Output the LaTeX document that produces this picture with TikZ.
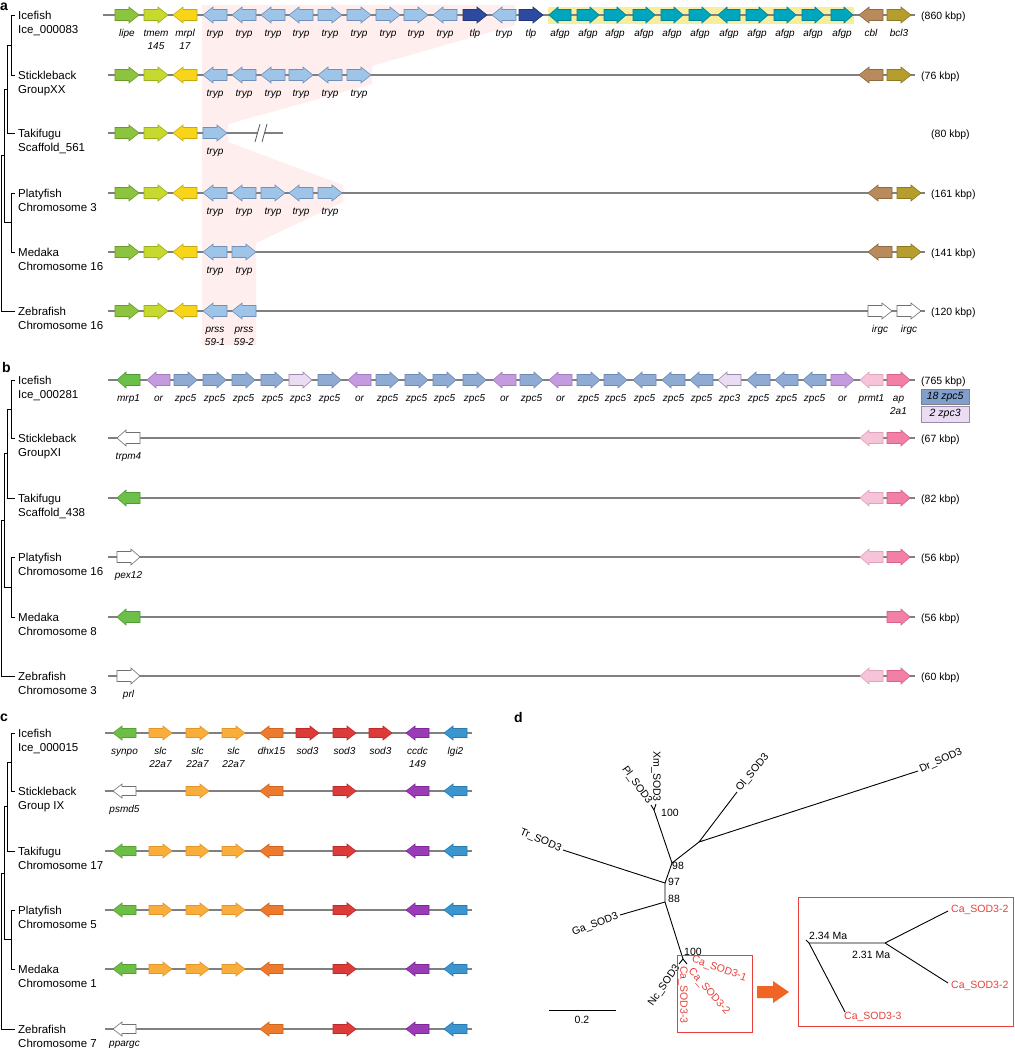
\documentclass[tikz,border=0pt]{standalone}
\usepackage{fontspec}
\setmainfont{Liberation Sans}
\definecolor{chromgray}{HTML}{808080}
\definecolor{pinkA}{HTML}{FEEEEE}
\definecolor{afgpbox}{HTML}{F6EE9C}
\definecolor{lipeF}{HTML}{8CC43F}\definecolor{lipeD}{HTML}{6A9A2A}
\definecolor{tmemF}{HTML}{C6D92E}\definecolor{tmemD}{HTML}{9AAE1E}
\definecolor{mrplF}{HTML}{F8D519}\definecolor{mrplD}{HTML}{C8A812}
\definecolor{trypF}{HTML}{9EC4E8}\definecolor{trypD}{HTML}{6F90BA}
\definecolor{tlpF}{HTML}{2D4AA0}\definecolor{tlpD}{HTML}{1F3578}
\definecolor{afgpF}{HTML}{00A5BE}\definecolor{afgpD}{HTML}{008096}
\definecolor{cblF}{HTML}{B88A5C}\definecolor{cblD}{HTML}{8E6942}
\definecolor{bclF}{HTML}{B59E2E}\definecolor{bclD}{HTML}{8C7A20}
\definecolor{whF}{HTML}{FFFFFF}\definecolor{whD}{HTML}{707070}
\definecolor{mrpF}{HTML}{6CC04A}\definecolor{mrpD}{HTML}{4F9A33}
\definecolor{orF}{HTML}{C59BE0}\definecolor{orD}{HTML}{A47CC0}
\definecolor{zfiveF}{HTML}{8FAAD3}\definecolor{zfiveD}{HTML}{6E8AB4}
\definecolor{legfive}{HTML}{819FCB}
\definecolor{zthreeF}{HTML}{EADDF3}\definecolor{zthreeD}{HTML}{9A8AAE}
\definecolor{prmtF}{HTML}{F6C3D8}\definecolor{prmtD}{HTML}{E0A3BC}
\definecolor{apF}{HTML}{F17FA6}\definecolor{apD}{HTML}{D8628A}
\definecolor{synF}{HTML}{6DBE45}\definecolor{synD}{HTML}{55A032}
\definecolor{slcF}{HTML}{F9AE3B}\definecolor{slcD}{HTML}{E0962A}
\definecolor{dhxF}{HTML}{EE7A2D}\definecolor{dhxD}{HTML}{D0651E}
\definecolor{sodF}{HTML}{DD3A3A}\definecolor{sodD}{HTML}{BE2A2A}
\definecolor{ccdF}{HTML}{9B3CB7}\definecolor{ccdD}{HTML}{80289A}
\definecolor{lgiF}{HTML}{3B95CE}\definecolor{lgiD}{HTML}{2A7AB0}
\definecolor{redT}{HTML}{E8413C}
\definecolor{orangeA}{HTML}{F06424}
\tikzset{
 chrom/.style={draw=chromgray,line width=1.1pt},
 treeline/.style={draw=black,line width=0.9pt},
 glabel/.style={font=\fontsize{10}{12}\selectfont\itshape, anchor=base, inner sep=0pt},
 splab/.style={font=\fontsize{11.5}{13}\selectfont, anchor=base west, inner sep=0pt},
 kbp/.style={font=\fontsize{10.5}{12}\selectfont, anchor=base west, inner sep=0pt},
 plabel/.style={font=\fontsize{14}{16}\selectfont\bfseries, anchor=base west, inner sep=0pt},
 dlab/.style={font=\fontsize{10.5}{12}\selectfont, inner sep=0pt},
 dtree/.style={draw=black,line width=0.9pt},
}
\def\gw{24}\def\hl{10}\def\bh{5.5}\def\hh{8}
\def\dirR{R}
\newcommand\geneshape[4]{%
 \edef\gdir{#3}%
 \ifx\gdir\dirR
  \filldraw[fill=#4F,draw=#4D,line width=0.6pt] (#1,#2-\bh) -- (#1+\gw-\hl,#2-\bh) -- (#1+\gw-\hl,#2-\hh) -- (#1+\gw,#2) -- (#1+\gw-\hl,#2+\hh) -- (#1+\gw-\hl,#2+\bh) -- (#1,#2+\bh) -- cycle;
 \else
  \filldraw[fill=#4F,draw=#4D,line width=0.6pt] (#1+\gw,#2-\bh) -- (#1+\hl,#2-\bh) -- (#1+\hl,#2-\hh) -- (#1,#2) -- (#1+\hl,#2+\hh) -- (#1+\hl,#2+\bh) -- (#1+\gw,#2+\bh) -- cycle;
 \fi}
\newcommand\genes[2]{\foreach \gx/\gd/\gc in {#2} {\geneshape{\gx}{#1}{\gd}{\gc}}}
\newcommand\glabels[2]{\foreach \gx/\gt in {#2} {\node[glabel] at (\gx+\gw/2,#1+21) {\gt};}}
\newcommand\glabelsb[2]{\foreach \gx/\gt in {#2} {\node[glabel] at (\gx+\gw/2,#1+34) {\gt};}}
\newcommand\spclab[4]{\node[splab] (#1a) at (18,#2+4) {#3}; \node[splab] (#1b) at (18,#2+18) {#4};}
\newcommand\kbplab[4]{\node[kbp] (#1) at (#2,#3+4) {#4};}
\newcommand\cladetree[6]{%
 \pgfmathsetmacro\tmA{(#1+#2)/2}%
 \pgfmathsetmacro\tmB{(\tmA+#3)/2}%
 \pgfmathsetmacro\tmC{(#4+#5)/2}%
 \pgfmathsetmacro\tmD{(\tmB+\tmC)/2}%
 \draw[treeline] (15,#1) -- (11,#1) -- (11,#2) -- (15,#2);
 \draw[treeline] (11,\tmA) -- (7,\tmA) -- (7,#3) -- (15,#3);
 \draw[treeline] (15,#4) -- (11,#4) -- (11,#5) -- (15,#5);
 \draw[treeline] (7,\tmB) -- (4,\tmB) -- (4,\tmC) -- (11,\tmC);
 \draw[treeline] (4,\tmD) -- (1,\tmD) -- (1,#6) -- (15,#6);
}
\begin{document}
\begin{tikzpicture}[x=1pt,y=-1pt]
\fill[white] (0,0) rectangle (1015,1050);
\useasboundingbox (0,0) rectangle (1015,1050);
% ================= panel a =================
\node[plabel] (pa) at (0,10) {a};
\fill[pinkA] (202,5) -- (515,5) -- (515,25) -- (372,66) -- (372,84) -- (228,124) -- (228,142) -- (343,185) -- (343,202) -- (256,243) -- (256,345) -- (202,345) -- cycle;
\fill[afgpbox] (548,7) rectangle (854,24);
\cladetree{15}{75}{133}{193}{252}{311}
\spclab{a1}{15}{Icefish}{Ice\_000083}
\spclab{a2}{75}{Stickleback}{GroupXX}
\spclab{a3}{133}{Takifugu}{Scaffold\_561}
\spclab{a4}{193}{Platyfish}{Chromosome 3}
\spclab{a5}{252}{Medaka}{Chromosome 16}
\spclab{a6}{311}{Zebrafish}{Chromosome 16}
% row 1
\draw[chrom] (103,15) -- (915,15);
\genes{15}{115/R/lipe,144/R/tmem,173/L/mrpl,203/L/tryp,232/L/tryp,261/L/tryp,289/L/tryp,318/R/tryp,347/R/tryp,376/R/tryp,404/R/tryp,433/L/tryp,463/R/tlp,492/L/tryp,519/R/tlp,859/L/cbl,887/R/bcl}
\glabels{15}{115/lipe,144/tmem,173/mrpl,203/tryp,232/tryp,261/tryp,289/tryp,318/tryp,347/tryp,376/tryp,404/tryp,433/tryp,463/tlp,492/tryp,519/tlp,859/cbl,887/bcl3}
\glabelsb{15}{144/145,173/17}
\def\gw{22}\def\hl{9}
\genes{15}{549/L/afgp,577/R/afgp,604/R/afgp,633/R/afgp,661/R/afgp,689/R/afgp,718/L/afgp,746/R/afgp,774/R/afgp,802/R/afgp,831/R/afgp}
\glabels{15}{549/afgp,577/afgp,604/afgp,633/afgp,661/afgp,689/afgp,718/afgp,746/afgp,774/afgp,802/afgp,831/afgp}
\def\gw{24}\def\hl{10}
\kbplab{k1}{921}{15}{(860 kbp)}
% row 2
\draw[chrom] (108,75) -- (915,75);
\genes{75}{115/R/lipe,144/R/tmem,173/L/mrpl,203/L/tryp,232/L/tryp,261/L/tryp,289/R/tryp,318/L/tryp,347/R/tryp,859/L/cbl,887/R/bcl}
\glabels{75}{203/tryp,232/tryp,261/tryp,289/tryp,318/tryp,347/tryp}
\kbplab{k2}{921}{75}{(76 kbp)}
% row 3
\draw[chrom] (108,133) -- (258,133);
\draw[chrom] (264,133) -- (283,133);
\draw[line width=0.8pt,chromgray!70!black] (255,142) -- (260,124);
\draw[line width=0.8pt,chromgray!70!black] (262,142) -- (267,124);
\genes{133}{115/R/lipe,144/R/tmem,173/L/mrpl,203/R/tryp}
\glabels{133}{203/tryp}
\kbplab{k3}{931}{133}{(80 kbp)}
% row 4
\draw[chrom] (108,193) -- (925,193);
\genes{193}{115/R/lipe,144/R/tmem,173/L/mrpl,203/L/tryp,232/L/tryp,261/R/tryp,289/L/tryp,318/R/tryp,868/L/cbl,897/R/bcl}
\glabels{193}{203/tryp,232/tryp,261/tryp,289/tryp,318/tryp}
\kbplab{k4}{931}{193}{(161 kbp)}
% row 5
\draw[chrom] (108,252) -- (925,252);
\genes{252}{115/R/lipe,144/R/tmem,173/L/mrpl,203/L/tryp,232/R/tryp,868/L/cbl,897/R/bcl}
\glabels{252}{203/tryp,232/tryp}
\kbplab{k5}{931}{252}{(141 kbp)}
% row 6
\draw[chrom] (108,311) -- (925,311);
\genes{311}{115/R/lipe,144/R/tmem,173/L/mrpl,203/L/tryp,232/L/tryp,868/R/wh,897/R/wh}
\glabels{311}{203/prss,232/prss,868/irgc,897/irgc}
\glabelsb{311}{203/59-1,232/59-2}
\kbplab{k6}{931}{311}{(120 kbp)}
% ================= panel b =================
\node[plabel] (pb) at (2,372) {b};
\def\gw{23}\def\hl{9}
\cladetree{380}{438}{498}{557}{617}{676}
\spclab{b1}{380}{Icefish}{Ice\_000281}
\spclab{b2}{438}{Stickleback}{GroupXI}
\spclab{b3}{498}{Takifugu}{Scaffold\_438}
\spclab{b4}{557}{Platyfish}{Chromosome 16}
\spclab{b5}{617}{Medaka}{Chromosome 8}
\spclab{b6}{676}{Zebrafish}{Chromosome 3}
\draw[chrom] (108,380) -- (915,380);
\genes{380}{117/L/mrp,147/L/or,174/R/zfive,203/R/zfive,232/R/zfive,261/R/zfive,289/R/zthree,318/R/zfive,348/L/or,376/R/zfive,405/R/zfive,433/R/zfive,463/R/zfive,493/L/or,520/R/zfive,549/L/or,577/R/zfive,604/R/zfive,633/L/zfive,662/L/zfive,690/L/zfive,718/L/zthree,747/L/zfive,775/L/zfive,803/L/zfive,831/R/or,860/L/prmt,887/R/ap}
\glabels{380}{117/mrp1,147/or,174/zpc5,203/zpc5,232/zpc5,261/zpc5,289/zpc3,318/zpc5,348/or,376/zpc5,405/zpc5,433/zpc5,463/zpc5,493/or,520/zpc5,549/or,577/zpc5,604/zpc5,633/zpc5,662/zpc5,690/zpc5,718/zpc3,747/zpc5,775/zpc5,803/zpc5,831/or,860/prmt1,887/ap}
\glabelsb{380}{887/2a1}
\kbplab{kb1}{921}{380}{(765 kbp)}
\node[draw=chromgray, fill=legfive, minimum width=48pt, minimum height=15pt, inner sep=0pt, anchor=north west, font=\fontsize{10.5}{12}\selectfont\itshape] (leg5) at (921,389) {18 zpc5};
\node[draw=zthreeD, fill=zthreeF, minimum width=48pt, minimum height=16pt, inner sep=0pt, anchor=north west, font=\fontsize{10.5}{12}\selectfont\itshape] (leg3) at (921,406) {2 zpc3};
\draw[chrom] (108,438) -- (915,438);
\genes{438}{117/L/wh,860/L/prmt,887/R/ap}
\glabels{438}{117/trpm4}
\kbplab{kb2}{921}{438}{(67 kbp)}
\draw[chrom] (108,498) -- (915,498);
\genes{498}{117/L/mrp,860/L/prmt,887/R/ap}
\kbplab{kb3}{921}{498}{(82 kbp)}
\draw[chrom] (108,557) -- (915,557);
\genes{557}{117/R/wh,860/L/prmt,887/R/ap}
\glabels{557}{117/pex12}
\kbplab{kb4}{921}{557}{(56 kbp)}
\draw[chrom] (108,617) -- (915,617);
\genes{617}{117/L/mrp,887/R/ap}
\kbplab{kb5}{921}{617}{(56 kbp)}
\draw[chrom] (108,676) -- (915,676);
\genes{676}{117/R/wh,860/L/prmt,887/R/ap}
\glabels{676}{117/prl}
\kbplab{kb6}{921}{676}{(60 kbp)}
% ================= panel c =================
\node[plabel] (pc) at (0,721) {c};
\def\gw{23}\def\hl{9}\def\bh{4.5}\def\hh{7}
\cladetree{733}{791}{851}{910}{969}{1029}
\spclab{c1}{733}{Icefish}{Ice\_000015}
\spclab{c2}{791}{Stickleback}{Group IX}
\spclab{c3}{851}{Takifugu}{Chromosome 17}
\spclab{c4}{910}{Platyfish}{Chromosome 5}
\spclab{c5}{969}{Medaka}{Chromosome 1}
\spclab{c6}{1029}{Zebrafish}{Chromosome 7}
\foreach \ry in {733,791,851,910,969,1029} {\draw[chrom] (105,\ry) -- (472,\ry);}
\genes{733}{113/L/syn,149/R/slc,186/R/slc,222/R/slc,260/L/dhx,296/R/sod,333/R/sod,369/R/sod,406/L/ccd,444/L/lgi}
\glabels{733}{113/synpo,149/slc,186/slc,222/slc,260/dhx15,296/sod3,333/sod3,369/sod3,406/ccdc,444/lgi2}
\glabelsb{733}{149/22a7,186/22a7,222/22a7,406/149}
\genes{791}{113/L/wh,186/R/slc,260/L/dhx,333/R/sod,406/L/ccd,444/L/lgi}
\glabels{791}{113/psmd5}
\foreach \ry in {851,910,969} {\genes{\ry}{113/L/syn,149/R/slc,186/R/slc,222/R/slc,260/L/dhx,333/R/sod,406/L/ccd,444/L/lgi}}
\genes{1029}{113/L/wh,260/L/dhx,333/R/sod,406/L/ccd,444/L/lgi}
\node[glabel] (lppargc) at (124.5,1046) {ppargc};
% ================= panel d =================
\node[plabel] (pd) at (514,722) {d};
\coordinate (N1) at (699,842);
\coordinate (Dr) at (918,771);
\coordinate (Ol) at (737,792);
\coordinate (N2) at (672,863);
\coordinate (NX) at (654,810);
\coordinate (Xm) at (656,804);
\coordinate (Pl) at (651,805);
\coordinate (N3) at (665,883);
\coordinate (Tr) at (563,850);
\coordinate (N4) at (665,902);
\coordinate (Ga) at (620,915);
\coordinate (N5) at (683,959);
\coordinate (Nc) at (679,964);
\coordinate (Ca) at (687,964);
\draw[dtree] (Dr) -- (N1) -- (Ol);
\draw[dtree] (N1) -- (N2) -- (NX) -- (Xm);
\draw[dtree] (NX) -- (Pl);
\draw[dtree] (N2) -- (N3) -- (Tr);
\draw[dtree] (N3) -- (N4) -- (Ga);
\draw[dtree] (N4) -- (N5) -- (Nc);
\draw[dtree] (N5) -- (Ca);
\node[dlab, anchor=west, rotate=24] (lDr) at (920,770) {Dr\_SOD3};
\node[dlab, anchor=west, rotate=50] (lOl) at (738,790) {Ol\_SOD3};
\node[dlab, anchor=east, rotate=-90] (lXm) at (656,802) {Xm\_SOD3};
\node[dlab, anchor=east, rotate=-54] (lPl) at (650,803) {Pl\_SOD3};
\node[dlab, anchor=east, rotate=-23] (lTr) at (561,849) {Tr\_SOD3};
\node[dlab, anchor=east, rotate=21] (lGa) at (618,916) {Ga\_SOD3};
\node[dlab, anchor=east, rotate=55] (lNc) at (678,966) {Nc\_SOD3};
\node[dlab, anchor=west, rotate=-90, text=redT] (lC3) at (683,966) {Ca\_SOD3-3};
\node[dlab, anchor=west, rotate=-49, text=redT] (lC2) at (690,970) {Ca\_SOD3-2};
\node[dlab, anchor=west, rotate=-20, text=redT] (lC1) at (692,959) {Ca\_SOD3-1};
\node[dlab, anchor=west] (b100a) at (661,813) {100};
\node[dlab, anchor=west] (b98) at (672,866) {98};
\node[dlab, anchor=west] (b97) at (668,882) {97};
\node[dlab, anchor=west] (b88) at (668,899) {88};
\node[dlab, anchor=west] (b100b) at (684,952) {100};
\draw[redT, line width=0.9pt] (677,955) rectangle (752,1032);
\fill[orangeA] (757,986) -- (773,986) -- (773,981) -- (789,992) -- (773,1003) -- (773,998) -- (757,998) -- cycle;
\draw[redT, line width=0.9pt] (798,897) rectangle (1013,1026);
\coordinate (R0) at (806,940);
\coordinate (RA) at (809,943);
\coordinate (RB) at (885,943);
\coordinate (T1) at (948,911);
\coordinate (T2) at (948,983);
\coordinate (T3) at (845,1012);
\draw[dtree] (R0) -- (RA) -- (RB) -- (T1);
\draw[dtree] (RB) -- (T2);
\draw[dtree] (RA) -- (T3);
\node[dlab, anchor=west, text=redT] (iC1) at (951,910) {Ca\_SOD3-2};
\node[dlab, anchor=west, text=redT] (iC2) at (951,986) {Ca\_SOD3-2};
\node[dlab, anchor=west, text=redT] (iC3) at (844,1017) {Ca\_SOD3-3};
\node[dlab, anchor=west] (m234) at (809,936) {2.34 Ma};
\node[dlab, anchor=west] (m231) at (852,955) {2.31 Ma};
\coordinate (S1) at (549,1010);
\coordinate (S2) at (616,1010);
\draw[line width=1pt] (S1) -- (S2);
\node[dlab] (sc) at (582,1020) {0.2};
\end{tikzpicture}
\end{document}
